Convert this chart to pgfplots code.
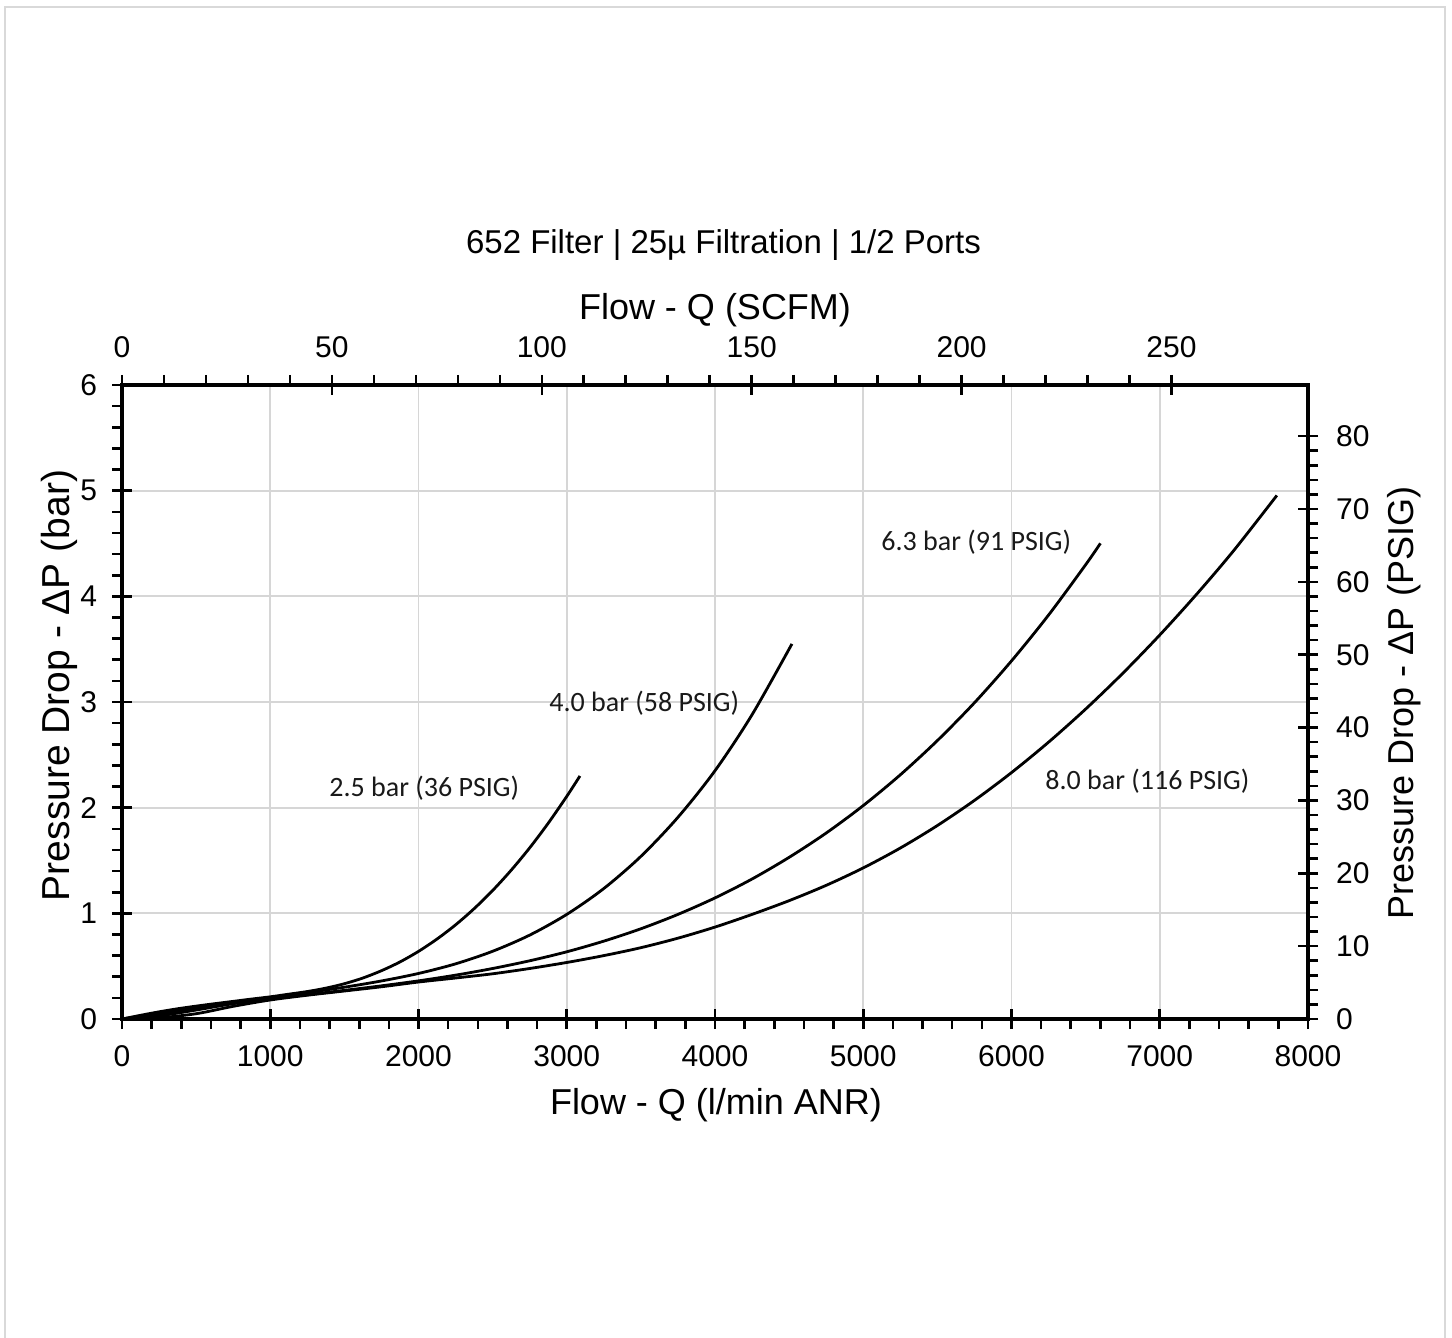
\documentclass[border=0pt]{standalone}
\usepackage{pgfplots}
\pgfplotsset{compat=1.18}
\usepackage{fontspec}
\setmainfont{Liberation Sans}
\newfontfamily\calfont{Carlito}
\definecolor{gridgray}{HTML}{D6D6D6}
\definecolor{framegray}{HTML}{D9D9D9}

\pgfplotstableread{
X Y
0 0
125 0.035
250 0.068
375 0.097
500 0.122
625 0.145
750 0.167
875 0.189
1000 0.21
1125 0.235
1250 0.260
1375 0.292
1500 0.334
1625 0.388
1750 0.457
1875 0.540
2000 0.640
2125 0.757
2250 0.891
2375 1.044
2500 1.216
2625 1.408
2750 1.620
2875 1.853
3000 2.107
3089 2.300
}\tAa
\pgfplotstableread{
X Y
0 0
250 0.05
500 0.105
750 0.155
1000 0.20
1250 0.25
1500 0.301
1750 0.360
2000 0.431
2250 0.522
2500 0.641
2750 0.794
3000 0.990
3250 1.235
3500 1.539
3750 1.909
4000 2.350
4250 2.880
4519 3.550
}\tBb
\pgfplotstableread{
X Y
0 0
250 0.03
500 0.085
750 0.145
1000 0.19
1250 0.23
1500 0.271
1750 0.314
2000 0.361
2250 0.415
2500 0.478
2750 0.551
3000 0.636
3250 0.737
3500 0.854
3750 0.990
4000 1.146
4250 1.325
4500 1.530
4750 1.760
5000 2.020
5250 2.311
5500 2.635
5750 2.993
6000 3.389
6250 3.823
6500 4.299
6600 4.502
}\tCc
\pgfplotstableread{
X Y
0 0
250 0.012
500 0.05
750 0.12
1000 0.18
1250 0.225
1500 0.265
1750 0.305
2000 0.35
2250 0.388
2500 0.428
2750 0.478
3000 0.535
3250 0.60
3500 0.675
3750 0.765
4000 0.87
4250 0.99
4500 1.12
4750 1.265
5000 1.43
5250 1.618
5500 1.831
5750 2.069
6000 2.332
6250 2.62
6500 2.933
6750 3.271
7000 3.634
7250 4.022
7500 4.435
7790 4.955
}\tDd

\pgfplotsset{
  common/.style={
    at={(61pt,-509.5pt)}, anchor=south west,
    scale only axis, width=593pt, height=317pt,
    axis line style={line width=1.6pt},
    tick style={black, line width=1.3pt},
    major tick length=10pt,
    minor tick length=5pt,
    tick align=center,
    minor tick num=4,
    tick label style={font=\fontsize{15}{18}\selectfont},
    /pgf/number format/assume math mode=true,
    /pgf/number format/1000 sep={},
    scaled ticks=false,
  }
}

\begin{document}
\begin{tikzpicture}
\useasboundingbox (0,0) rectangle (726pt,-669pt);
\draw[framegray, line width=1pt] (2.25pt,-3.75pt) rectangle (722.25pt,-700pt);

\begin{axis}[common,
  xmin=0, xmax=8000, ymin=0, ymax=6,
  xtick={0,1000,...,8000}, ytick={0,1,...,6},
  tick pos=left,
  xticklabel style={yshift=-4.5pt},
  yticklabel style={xshift=-4pt},
  grid=major, major grid style={gridgray, line width=0.9pt},
  minor x tick style={yshift=-2.5pt}, minor y tick style={xshift=-2.5pt},
]
\addplot[black, line width=1.4pt, smooth] table[x=X,y=Y] {\tAa};
\addplot[black, line width=1.4pt, smooth] table[x=X,y=Y] {\tBb};
\addplot[black, line width=1.4pt, smooth] table[x=X,y=Y] {\tCc};
\addplot[black, line width=1.4pt, smooth] table[x=X,y=Y] {\tDd};
\end{axis}

\begin{axis}[common,
  xmin=0, xmax=282.517, ymin=0, ymax=87.0228,
  xtick={0,50,...,250}, ytick={0,10,...,80},
  axis x line*=top, axis y line*=right,
  xticklabel style={yshift=5pt},
  yticklabel style={xshift=5.5pt},
  minor x tick style={yshift=2.5pt}, minor y tick style={xshift=2.5pt},
]
\end{axis}

\node[anchor=base, font=\fontsize{16.5}{20}\selectfont] at (361.75pt,-126.5pt) {652 Filter | 25µ Filtration | 1/2 Ports};
\node[anchor=base, font=\fontsize{18}{22}\selectfont] at (357.5pt,-159.5pt) {Flow - Q (SCFM)};
\node[anchor=base, font=\fontsize{18}{22}\selectfont] at (358pt,-557pt) {Flow - Q (l/min ANR)};
\node[anchor=base, rotate=90, font=\fontsize{19.5}{23}\selectfont] at (34.5pt,-342.75pt) {Pressure Drop - ΔP (bar)};
\node[anchor=base, rotate=90, font=\fontsize{18}{22}\selectfont] at (706.5pt,-351.5pt) {Pressure Drop - ΔP (PSIG)};

\tikzset{ann/.style={anchor=base west, inner sep=0pt, font=\calfont\fontsize{14}{16}\selectfont, text=black!90}}
\node[ann] at (164.5pt,-398pt) {2.5 bar (36 PSIG)};
\node[ann] at (274.5pt,-355.5pt) {4.0 bar (58 PSIG)};
\node[ann] at (440.5pt,-275pt) {6.3 bar (91 PSIG)};
\node[ann] at (522.5pt,-394.5pt) {8.0 bar (116 PSIG)};
\end{tikzpicture}
\end{document}
